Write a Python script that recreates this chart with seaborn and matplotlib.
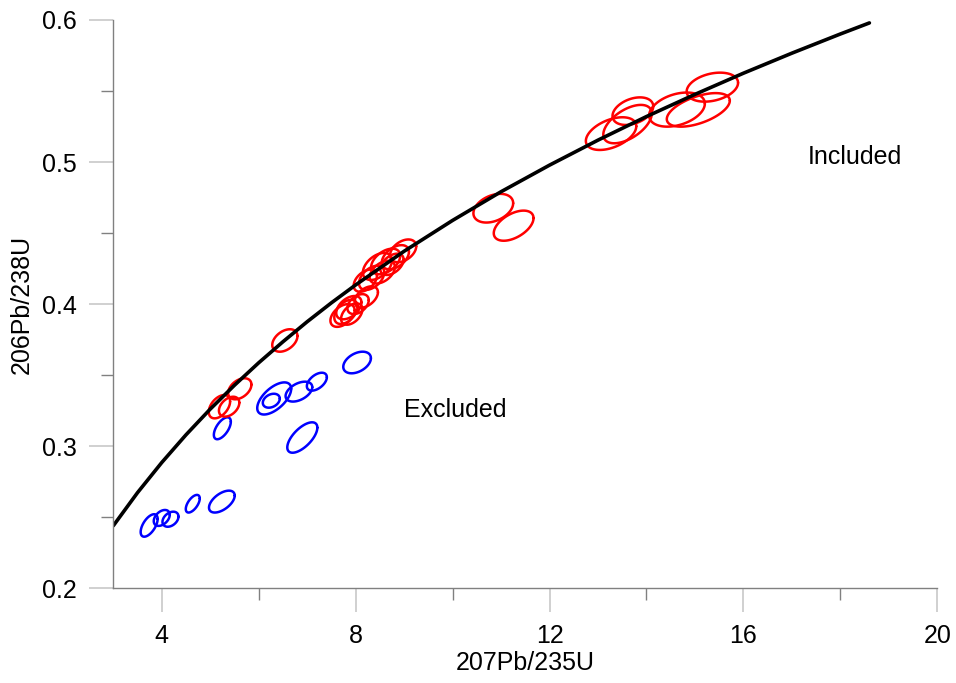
import numpy as np
import pandas as pd
import seaborn as sns
import matplotlib
matplotlib.use('Agg')
import matplotlib.pyplot as plt
from matplotlib.ticker import MultipleLocator, FormatStrFormatter

###############################################################################
# Data
###############################################################################
# concordia curve (207Pb/235U, 206Pb/238U)
conc_x = [3.0, 3.5, 4.0, 4.5, 5.0, 5.5, 6.0, 6.5, 7.0, 7.5, 8.0, 9.0, 10.0,
          11.0, 12.0, 13.0, 14.0, 15.0, 16.0, 17.0, 18.0, 18.6]
conc_y = [0.2440, 0.2673, 0.2885, 0.3080, 0.3261, 0.3429, 0.3587, 0.3735,
          0.3876, 0.4009, 0.4135, 0.4372, 0.4589, 0.4791, 0.4978, 0.5154,
          0.5320, 0.5476, 0.5625, 0.5766, 0.5901, 0.5979]

# included analyses (red): centre, half-widths, error correlation
red_x = [5.19, 5.39, 5.61, 6.54, 7.73, 7.80, 7.86, 7.92, 8.05, 8.22, 8.20,
         8.33, 8.45, 8.55, 8.62, 8.75, 8.82, 8.98, 10.84, 11.26, 13.27, 13.61,
         13.72, 14.63, 15.07, 15.36]
red_y = [0.3278, 0.3278, 0.3404, 0.3744, 0.3920, 0.3945, 0.3975, 0.3930,
         0.4000, 0.4050, 0.4165, 0.4185, 0.4265, 0.4225, 0.4300, 0.4280,
         0.4330, 0.4375, 0.4675, 0.4552, 0.5200, 0.5267, 0.5358, 0.5369,
         0.5367, 0.5527]
red_sx = [0.22, 0.21, 0.24, 0.26, 0.25, 0.24, 0.26, 0.22, 0.22, 0.24, 0.24,
          0.26, 0.30, 0.26, 0.30, 0.24, 0.28, 0.27, 0.41, 0.41, 0.52, 0.50,
          0.42, 0.575, 0.65, 0.53]
red_sy = [0.0082, 0.0070, 0.0074, 0.0079, 0.0080, 0.0085, 0.0082, 0.0075,
          0.0070, 0.0075, 0.0078, 0.0085, 0.0095, 0.0080, 0.0090, 0.0075,
          0.0085, 0.0080, 0.0101, 0.0106, 0.0115, 0.0135, 0.0097, 0.0120,
          0.0118, 0.0102]
red_rho = [0.45, 0.4, 0.4, 0.4, 0.45, 0.45, 0.45, 0.45, 0.4, 0.45, 0.45, 0.45,
           0.45, 0.45, 0.45, 0.45, 0.45, 0.4, 0.35, 0.5, 0.45, 0.55, 0.35,
           0.35, 0.55, 0.3]

# excluded analyses (blue)
blue_x = [3.74, 4.00, 4.18, 4.64, 5.24, 5.25, 6.32, 6.26, 6.83, 7.20, 8.03, 6.90]
blue_y = [0.2442, 0.2495, 0.2486, 0.2595, 0.2610, 0.3126, 0.3336, 0.3320,
          0.3384, 0.3454, 0.3589, 0.3061]
blue_sx = [0.175, 0.165, 0.165, 0.144, 0.265, 0.175, 0.35, 0.175, 0.275,
           0.206, 0.285, 0.31]
blue_sy = [0.0079, 0.0056, 0.0053, 0.0062, 0.0077, 0.0077, 0.0113, 0.0049,
           0.0070, 0.0063, 0.0076, 0.0107]
blue_rho = [0.58, 0.4, 0.35, 0.6, 0.55, 0.6, 0.6, 0.3, 0.45, 0.5, 0.4, 0.65]

XTICKS = [4, 8, 12, 16, 20]
YTICKS = [0.2, 0.3, 0.4, 0.5, 0.6]


def ellipse_rows(xs, ys, sxs, sys_, rhos, group, start_id):
    """Error ellipse outlines from centre, half-widths and correlation."""
    theta = np.linspace(0, 2 * np.pi, 120)
    rows = []
    for i, (cx, cy, sx, sy, r) in enumerate(zip(xs, ys, sxs, sys_, rhos)):
        ex = cx + sx * np.cos(theta)
        ey = cy + sy * (r * np.cos(theta) + np.sqrt(1 - r ** 2) * np.sin(theta))
        for k in range(len(theta)):
            rows.append([start_id + i, group, k, ex[k], ey[k]])
    return rows


rows = ellipse_rows(blue_x, blue_y, blue_sx, blue_sy, blue_rho, 'Excluded', 0)
rows += ellipse_rows(red_x, red_y, red_sx, red_sy, red_rho, 'Included', 100)
ell_df = pd.DataFrame(rows, columns=['id', 'group', 'k', 'x', 'y'])

###############################################################################
# Style
###############################################################################
sns.set_style('white')
plt.rcParams['font.family'] = ['Liberation Sans', 'DejaVu Sans']
plt.rcParams['text.color'] = 'black'
plt.rcParams['axes.labelcolor'] = 'black'
plt.rcParams['xtick.labelcolor'] = 'black'
plt.rcParams['ytick.labelcolor'] = 'black'
fontsize = 18

fig = plt.figure(figsize=(9.56, 6.83), dpi=100)
ax = fig.add_axes([0.1185, 0.1387, 0.8619, 0.8321])

sns.lineplot(data=ell_df, x='x', y='y', units='id', hue='group',
             estimator=None, sort=False, palette={'Included': '#ff0000',
                                                  'Excluded': '#0000ff'},
             linewidth=1.8, legend=False, ax=ax)
sns.lineplot(x=conc_x, y=conc_y, color='black', linewidth=2.6, sort=False,
             ax=ax)

ax.text(17.33, 0.5036, 'Included', fontsize=fontsize, ha='left', va='center')
ax.text(9.0, 0.3255, 'Excluded', fontsize=fontsize, ha='left', va='center')

ax.set_xlim(3, 20)
ax.set_ylim(0.2, 0.6)
ax.set_xticks(XTICKS)
ax.set_yticks(YTICKS)
ax.xaxis.set_minor_locator(MultipleLocator(2))
ax.yaxis.set_minor_locator(MultipleLocator(0.05))
ax.xaxis.set_major_formatter(FormatStrFormatter('%d'))
ax.yaxis.set_major_formatter(FormatStrFormatter('%.1f'))
ax.tick_params(which='major', direction='out', length=17, width=1.2,
               color='#c8c8c8', labelsize=fontsize, pad=9, bottom=True, left=True)
ax.tick_params(which='minor', direction='out', length=8.5, width=1.0,
               color='#808080', bottom=True, left=True)

for side in ['top', 'right']:
    ax.spines[side].set_visible(False)
for side in ['left', 'bottom']:
    ax.spines[side].set_color('#808080')
    ax.spines[side].set_linewidth(1.0)

ax.set_xlabel('207Pb/235U', fontsize=fontsize, labelpad=2)
ax.set_ylabel('206Pb/238U', fontsize=fontsize, labelpad=6)

fig.savefig('out.png', dpi=100)
